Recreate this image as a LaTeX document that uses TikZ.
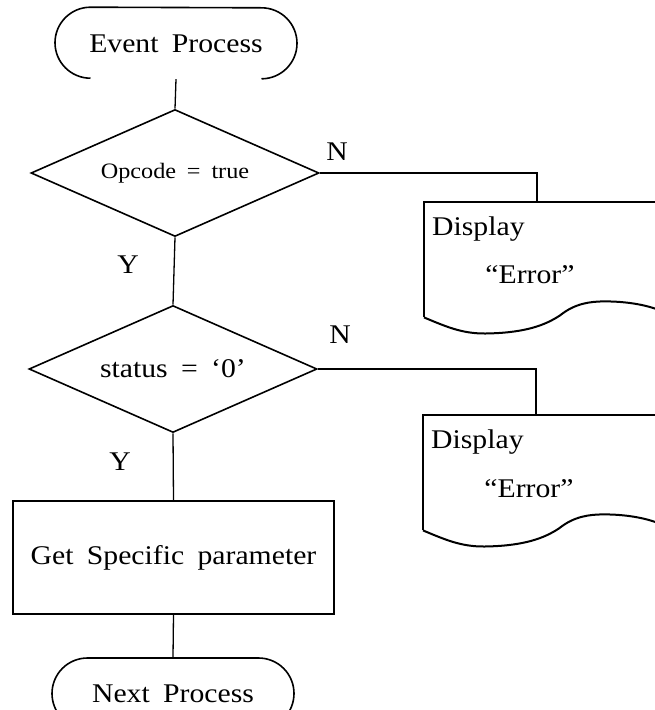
\documentclass[tikz,border=0pt]{standalone}
\usepackage{fontspec}
\setmainfont{Liberation Serif}[FakeStretch=1.1,WordSpace=1.8]
\usetikzlibrary{shapes.geometric,shapes.misc}
\begin{document}
\begin{tikzpicture}[x=1pt,y=-1pt,
  txt/.style={font=\fontsize{27}{32}\selectfont, inner sep=0pt},
  smalltxt/.style={font=\fontsize{22}{26}\selectfont, inner sep=0pt},
  shapeline/.style={line width=1.6pt},
  docline/.style={line width=2pt},
  link/.style={line width=1.3pt},
  term/.style={rounded rectangle, minimum width=242pt, minimum height=71pt, inner sep=0pt, txt},
  dec/.style={diamond, draw, shapeline, aspect=2.27, minimum width=288pt, minimum height=127pt, inner sep=0pt},
  proc/.style={rectangle, draw, shapeline, minimum width=321pt, minimum height=113pt, inner sep=0pt, txt},
  docbox/.style={rectangle, minimum width=296pt, minimum height=115pt, inner sep=0pt, anchor=north west},
]
\clip (0,0) rectangle (655,710);

% start terminal (its lower edge is open between the two end arcs)
\node[term] (t1) at (176,43.5) {Event Process};
\draw[shapeline] ([xshift=-85.5pt,yshift=1pt]t1.south) arc[start angle=270,end angle=90,radius=35.5pt]
  -- ([xshift=85.5pt]t1.north) arc[start angle=90,end angle=-90,radius=35.5pt];

% decisions
\node[dec, smalltxt] (d1) at (175,173) {Opcode = true};
\node[dec, txt] (d2) at (173,369) {status = ‘0’};

% process box and end terminal
\node[proc] (p1) at (173.5,557.5) {Get Specific parameter};
\node[term, draw, shapeline] (t2) at (173,693.5) {Next Process};

% document shapes
\node[docbox] (doc1) at (424,202) {};
\node[docbox] (doc2) at (423,415) {};
\foreach \d in {doc1,doc2}{
  \draw[docline] (\d.south west) -- (\d.north west) -- (\d.north east);
  \draw[docline, shift={(\d.south west)}] (0,0)
    .. controls (26,11) and (41,17) .. (66,16)
    .. controls (101,15) and (121,8) .. (136,-2)
    .. controls (151,-14) and (166,-16) .. (181,-16)
    .. controls (201,-16) and (221,-13) .. (236,-7)
    .. controls (256,0) and (276,5) .. (296,5);
}
\node[txt, anchor=base west] (disp1) at ([shift={(8,33)}]doc1.north west) {Display};
\node[txt, anchor=base] (err1) at ([shift={(106,81)}]doc1.north west) {“Error”};
\node[txt, anchor=base west] (disp2) at ([shift={(8,33)}]doc2.north west) {Display};
\node[txt, anchor=base] (err2) at ([shift={(106,82)}]doc2.north west) {“Error”};

% branch ends on the document tops
\coordinate (in1) at (537,202);
\coordinate (in2) at (536,415);

% connectors
\draw[link] (t1.south) -- (d1.north);
\draw[link] (d1.south) -- (d2.north);
\draw[link] (d2.south) -- (p1.north);
\draw[link] (p1.south) -- (t2.north);
\draw[link] (d1.east) -| (in1);
\draw[link] (d2.east) -| (in2);

% branch labels
\node[txt] (n1) at (337,152) {N};
\node[txt] (y1) at (128,265) {Y};
\node[txt] (n2) at (340,335) {N};
\node[txt] (y2) at (120,462) {Y};
\end{tikzpicture}
\end{document}
